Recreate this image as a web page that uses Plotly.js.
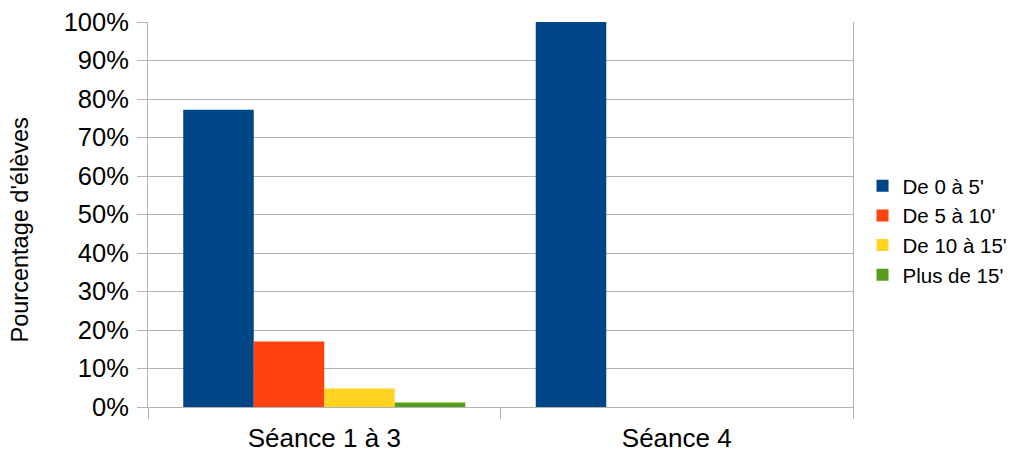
<!DOCTYPE html>
<html>
<head>
<meta charset="utf-8">
<script src="https://cdn.plot.ly/plotly-3.0.1.min.js"></script>
<style>html,body{margin:0;padding:0;background:#fff;}#chart{width:1010px;height:452px;}</style>
</head>
<body>
<div id="chart"></div>
<script>
const categories = ["Séance 1 à 3", "Séance 4"];
const seriesNames = ["De 0 à 5'", "De 5 à 10'", "De 10 à 15'", "Plus de 15'"];
const de0a5 = [0.772, 1.0];
const de5a10 = [0.170, 0];
const de10a15 = [0.048, 0];
const plusDe15 = [0.012, 0];
const yTickVals = [0, 0.1, 0.2, 0.3, 0.4, 0.5, 0.6, 0.7, 0.8, 0.9, 1.0];
const yTickText = ["0%", "10%", "20%", "30%", "40%", "50%", "60%", "70%", "80%", "90%", "100%"];
const yTitle = "Pourcentage d'élèves";

const colors = ["#004586", "#ff420e", "#ffd320", "#579d1c"];
const seriesValues = [de0a5, de5a10, de10a15, plusDe15];

const data = seriesValues.map((vals, i) => ({
  type: "bar",
  name: seriesNames[i],
  x: categories,
  y: vals,
  marker: {color: colors[i], line: {width: 0}},
  hoverinfo: "skip"
}));

const layout = {
  width: 1010,
  height: 452,
  margin: {l: 148, r: 157, t: 22, b: 44.5, pad: 0, autoexpand: false},
  paper_bgcolor: "#fff",
  plot_bgcolor: "#fff",
  barmode: "group",
  bargap: 0.2,
  bargroupgap: 0,
  font: {family: "Liberation Sans, Arial, sans-serif", color: "#000"},
  xaxis: {
    type: "category",
    tickson: "boundaries",
    ticks: "outside",
    ticklen: 11,
    tickcolor: "#b3b3b3",
    tickwidth: 1,
    ticklabelstandoff: 8,
    showgrid: false,
    showline: true,
    linecolor: "#b3b3b3",
    linewidth: 1,
    tickfont: {size: 26, color: "#000"},
    automargin: false,
    fixedrange: true
  },
  yaxis: {
    range: [0, 1],
    tickvals: yTickVals,
    ticktext: yTickText,
    ticks: "outside",
    ticklen: 10,
    tickcolor: "#b3b3b3",
    tickwidth: 1,
    ticklabelstandoff: 3,
    showgrid: true,
    gridcolor: "#b3b3b3",
    gridwidth: 1,
    zeroline: false,
    showline: true,
    mirror: true,
    linecolor: "#b3b3b3",
    linewidth: 1,
    tickfont: {size: 25.5, color: "#000"},
    automargin: false,
    fixedrange: true
  },
  annotations: [{
    text: yTitle,
    xref: "paper", yref: "paper",
    x: 0, y: 0.4585,
    xanchor: "center", yanchor: "middle",
    xshift: -128,
    textangle: -90,
    showarrow: false,
    font: {size: 23.5, color: "#000"}
  }],
  legend: {
    x: 1.0135, xref: "paper", xanchor: "left",
    y: 0.4585, yanchor: "middle",
    font: {size: 20.5, color: "#000"},
    bgcolor: "rgba(0,0,0,0)",
    borderwidth: 0,
    itemwidth: 30,
    tracegroupgap: 0
  },
  showlegend: true
};

Plotly.newPlot("chart", data, layout, {displayModeBar: false, staticPlot: true});
</script>
</body>
</html>
